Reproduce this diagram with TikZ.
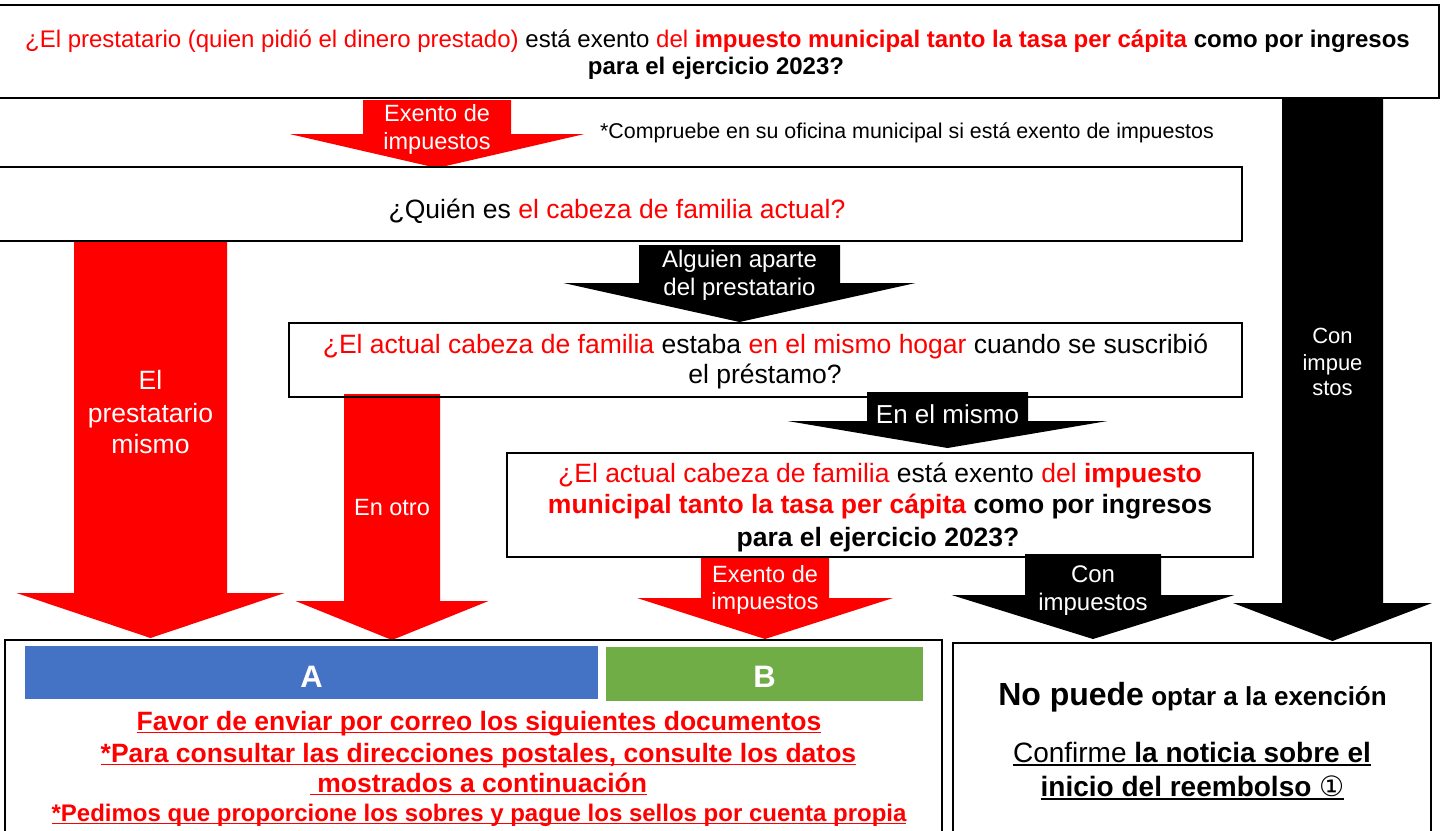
\documentclass[tikz,border=0pt]{standalone}
\usepackage{fontspec}
\setmainfont{Liberation Sans}
\newfontfamily\djv{DejaVu Sans}
\definecolor{rd}{RGB}{255,0,0}
\definecolor{ablue}{RGB}{68,114,196}
\definecolor{bgreen}{RGB}{112,173,71}
\newcommand\fs[1]{\fontsize{#1}{#1}\selectfont}
% #1 colour, #2 centre x, #3 shaft half width, #4 head half width, #5 top, #6 head base, #7 tip
\newcommand\blockarrow[7]{%
  \fill[#1] ({#2-#3},#5) -- ({#2+#3},#5) -- ({#2+#3},#6) -- ({#2+#4},#6) -- (#2,#7)
    -- ({#2-#4},#6) -- ({#2-#3},#6) -- cycle;}
\begin{document}
\begin{tikzpicture}[x=1pt,y=-1pt,
  box/.style={draw=black, line width=2pt, rectangle, inner sep=0pt},
  bar/.style={rectangle, inner sep=0pt},
  lbl/.style={inner sep=0pt, outer sep=0pt, anchor=base},
  wlbl/.style={lbl, text=white},
  ulred/.style={line width=1.8pt, rd},
  ulblk/.style={line width=1.2pt, black},
]
\useasboundingbox (0,0) rectangle (1442,830);
\clip (0,0) rectangle (1442,830);

% ---- block arrows
\blockarrow{rd}{437}{74}{147.5}{100}{134}{168}
\blockarrow{black}{1332.5}{50.5}{99.5}{99}{603}{641}
\blockarrow{rd}{150.5}{76.5}{134}{241}{593}{638}
\blockarrow{black}{739.5}{100.5}{176}{245}{283}{322}
\blockarrow{rd}{392}{48}{96.5}{394}{601}{640}
\blockarrow{black}{947.5}{80.5}{160}{392}{421}{448}
\blockarrow{rd}{765}{64}{128}{556}{598}{639}
\blockarrow{black}{1093}{68}{141.5}{554}{595}{639}

% ---- boxes
\node[box, minimum width=1441, minimum height=93] (q1) at (718.5,51.5) {};
\node[box, minimum width=1247, minimum height=74] (q2) at (618.5,204) {};
\node[box, minimum width=953, minimum height=74] (q3) at (765.5,360) {};
\node[box, minimum width=746, minimum height=104] (q4) at (880,505) {};
\node[box, minimum width=937, minimum height=210] (res) at (473.5,745) {};
\node[box, minimum width=478, minimum height=207] (no) at (1192,746.5) {};
\node[bar, fill=ablue, minimum width=573, minimum height=53] (ba) at (311.5,672.5) {};
\node[bar, fill=bgreen, minimum width=317, minimum height=54] (bb) at (764.5,674) {};

% ---- box texts
\node[lbl, font=\fs{24}] (t1a) at (717.5,47) {\textcolor{rd}{¿El prestatario (quien pidió el dinero prestado)} está exento \textcolor{rd}{del \textbf{impuesto municipal tanto la tasa per cápita}} \textbf{como por ingresos}};
\node[lbl, font=\fs{24}\bfseries] (t1b) at (716,74) {para el ejercicio 2023?};
\node[lbl, font=\fs{26.5}] (t2) at (617,218) {¿Quién es \textcolor{rd}{el cabeza de familia actual?}};
\node[lbl, font=\fs{21.4}] (note) at (907,138) {*Compruebe en su oficina municipal si está exento de impuestos};
\node[lbl, font=\fs{26.5}] (t3a) at (765.5,353) {\textcolor{rd}{¿El actual cabeza de familia} estaba \textcolor{rd}{en el mismo hogar} cuando se suscribió};
\node[lbl, font=\fs{26.5}] (t3b) at (765,383) {el préstamo?};
\node[lbl, font=\fs{26.5}] (t4a) at (880,482) {\textcolor{rd}{¿El actual cabeza de familia} está exento \textcolor{rd}{del \textbf{impuesto}}};
\node[lbl, font=\fs{26.5}\bfseries] (t4b) at (880,513) {\textcolor{rd}{municipal tanto la tasa per cápita} como por ingresos};
\node[lbl, font=\fs{26.5}\bfseries] (t4c) at (878,546) {para el ejercicio 2023?};

% ---- arrow labels
\node[wlbl, font=\fs{23.5}] (a1a) at (437,121) {Exento de};
\node[wlbl, font=\fs{23.5}] (a1b) at (437,149) {impuestos};
\node[wlbl, font=\fs{22}] (a2a) at (1332.5,343) {Con};
\node[wlbl, font=\fs{22}] (a2b) at (1332.5,370) {impue};
\node[wlbl, font=\fs{22}] (a2c) at (1332.5,395) {stos};
\node[wlbl, font=\fs{26.5}] (a3a) at (150.5,389) {El};
\node[wlbl, font=\fs{26.5}] (a3b) at (150.5,422) {prestatario};
\node[wlbl, font=\fs{26.5}] (a3c) at (150.5,453) {mismo};
\node[wlbl, font=\fs{24}] (a4a) at (739.5,267) {Alguien aparte};
\node[wlbl, font=\fs{24}] (a4b) at (739.5,295) {del prestatario};
\node[wlbl, font=\fs{23.5}] (a5) at (392,515) {En otro};
\node[wlbl, font=\fs{26}] (a6) at (947.5,423) {En el mismo};
\node[wlbl, font=\fs{23.5}] (a7a) at (765,582) {Exento de};
\node[wlbl, font=\fs{23.5}] (a7b) at (765,609) {impuestos};
\node[wlbl, font=\fs{24}] (a8a) at (1093,582) {Con};
\node[wlbl, font=\fs{24}] (a8b) at (1093,610) {impuestos};

% ---- result A / B
\node[wlbl, font=\fs{31}\bfseries] (la) at (311.5,687) {A};
\node[wlbl, font=\fs{31}\bfseries] (lb) at (764.5,687) {B};
\node[lbl, text=rd, font=\fs{26.5}\bfseries] (r1) at (479,730) {Favor de enviar por correo los siguientes documentos};
\node[lbl, text=rd, font=\fs{26.5}\bfseries] (r2) at (478.5,762) {*Para consultar las direcciones postales, consulte los datos};
\node[lbl, text=rd, font=\fs{26.5}\bfseries] (r3) at (478.5,792) {\ mostrados a continuación};
\node[lbl, text=rd, font=\fs{24}\bfseries] (r4) at (479,821) {*Pedimos que proporcione los sobres y pague los sellos por cuenta propia};
\foreach \n in {r1,r2,r3,r4}
  \draw[ulred] ([yshift=-2.5pt]\n.base west) -- ([yshift=-2.5pt]\n.base east);

% ---- result: not eligible
\node[lbl, font=\bfseries] (n1) at (1192.5,705) {{\fs{32}No puede}{\fs{26} optar a la exención}};
\node[lbl, font=\fs{28}] (n2) at (1192,762) {Confirme \textbf{la noticia sobre el}};
\node[lbl, font=\fs{28}\bfseries] (n3) at (1192.5,796) {inicio del reembolso {\djv\mdseries ①}};
\foreach \n in {n2,n3}
  \draw[ulblk] ([yshift=-3pt]\n.base west) -- ([yshift=-3pt]\n.base east);
\end{tikzpicture}
\end{document}
